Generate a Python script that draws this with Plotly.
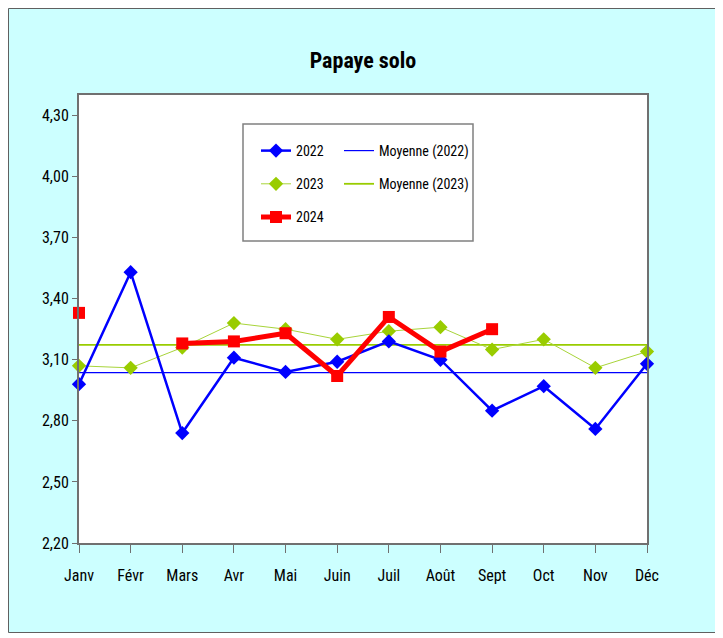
import numpy as np
import plotly.graph_objects as go

months = ["Janv", "Févr", "Mars", "Avr", "Mai", "Juin", "Juil", "Août", "Sept", "Oct", "Nov", "Déc"]
y2022 = [2.98, 3.53, 2.74, 3.11, 3.04, 3.09, 3.19, 3.10, 2.85, 2.97, 2.76, 3.08]
y2023 = [3.07, 3.06, 3.16, 3.28, 3.25, 3.20, 3.24, 3.26, 3.15, 3.20, 3.06, 3.14]
y2024 = [3.33, None, 3.18, 3.19, 3.23, 3.02, 3.31, 3.14, 3.25, None, None, None]
y_ticks = [2.2, 2.5, 2.8, 3.1, 3.4, 3.7, 4.0, 4.3]

mean2022 = float(np.mean(y2022))
mean2023 = float(np.mean(y2023))

FONT = "Roboto Condensed, Liberation Sans Narrow, Arial Narrow, sans-serif"
BLUE = "#0000FF"
GREEN = "#99CC00"
RED = "#FF0000"

fig = go.Figure()
fig.add_trace(go.Scatter(x=months, y=[mean2022] * len(months), name="Moyenne (2022)", mode="lines",
                         line=dict(color=BLUE, width=1.2),
                         legend="legend2", legendgroup="d", legendrank=4))
fig.add_trace(go.Scatter(x=months, y=[mean2023] * len(months), name="Moyenne (2023)", mode="lines",
                         line=dict(color=GREEN, width=1.8),
                         legend="legend2", legendgroup="e", legendrank=5))
fig.add_trace(go.Scatter(x=months, y=y2023, name="2023", mode="lines+markers",
                         line=dict(color="#A8D43A", width=1),
                         marker=dict(symbol="diamond", size=11, color=GREEN),
                         cliponaxis=False,
                         legend="legend", legendgroup="b", legendrank=2))
fig.add_trace(go.Scatter(x=months, y=y2022, name="2022", mode="lines+markers",
                         line=dict(color=BLUE, width=2.5),
                         marker=dict(symbol="diamond", size=11, color=BLUE),
                         cliponaxis=False,
                         legend="legend", legendgroup="a", legendrank=1))
fig.add_trace(go.Scatter(x=months, y=y2024, name="2024", mode="lines+markers",
                         line=dict(color=RED, width=5),
                         marker=dict(symbol="square", size=12, color=RED),
                         connectgaps=False, cliponaxis=False,
                         legend="legend", legendgroup="c", legendrank=3))

# page is drawn with an 8px body margin; work in figure coordinates
W, H = 709, 625
L, T = 71, 87
PW, PH = 568, 448
R = W - L - PW
B = H - T - PH


def px_x(p):
    return (p - L) / PW


def px_y(p):
    return (T + PH - p) / PH


shapes = [
    dict(type="rect", xref="paper", yref="paper", layer="below",
         x0=px_x(0.5), x1=px_x(W - 0.5), y0=px_y(H - 0.5), y1=px_y(0.5),
         fillcolor="#CCFFFF", line=dict(color="#606060", width=1)),
    dict(type="rect", xref="paper", yref="paper", layer="below",
         x0=0, x1=1, y0=0, y1=1, fillcolor="white", line=dict(width=0)),
    dict(type="rect", xref="paper", yref="paper", layer="below",
         x0=px_x(235), x1=px_x(465), y0=px_y(233), y1=px_y(116),
         fillcolor="white", line=dict(color="#808080", width=1.5)),
]

fig.update_layout(
    width=W, height=H,
    margin=dict(l=L, r=R, t=T, b=B),
    paper_bgcolor="#CCFFFF", plot_bgcolor="white",
    separators=", ",
    font=dict(family=FONT, size=16, color="black"),
    title=dict(text="<b>Papaye solo</b>", x=0.5, xref="paper", xanchor="center",
               y=1 - 52 / H, yanchor="middle", font=dict(size=22, family=FONT)),
    shapes=shapes,
    showlegend=True,
    legend=dict(x=px_x(248), y=px_y(127), xanchor="left", yanchor="top",
                bgcolor="rgba(0,0,0,0)", borderwidth=0, tracegroupgap=12,
                traceorder="grouped", font=dict(size=14, family=FONT)),
    legend2=dict(x=px_x(331), y=px_y(127), xanchor="left", yanchor="top",
                 bgcolor="rgba(0,0,0,0)", borderwidth=0, tracegroupgap=12,
                 traceorder="grouped", font=dict(size=14, family=FONT)),
    xaxis=dict(type="category", range=[0, 11], showgrid=False, zeroline=False,
               showline=True, linecolor="#707070", linewidth=2, mirror=True,
               ticks="outside", ticklen=8, tickcolor="#707070", tickwidth=1,
               ticklabelstandoff=9, tickfont=dict(size=16, family=FONT)),
    yaxis=dict(range=[2.2, 4.4], tickvals=y_ticks, tickformat=".2f", showgrid=False,
               zeroline=False, showline=True, linecolor="#707070", linewidth=2, mirror=True,
               ticks="outside", ticklen=5, tickcolor="#707070", tickwidth=1,
               tickfont=dict(size=16, family=FONT)),
)

fig.write_html("out.html")
